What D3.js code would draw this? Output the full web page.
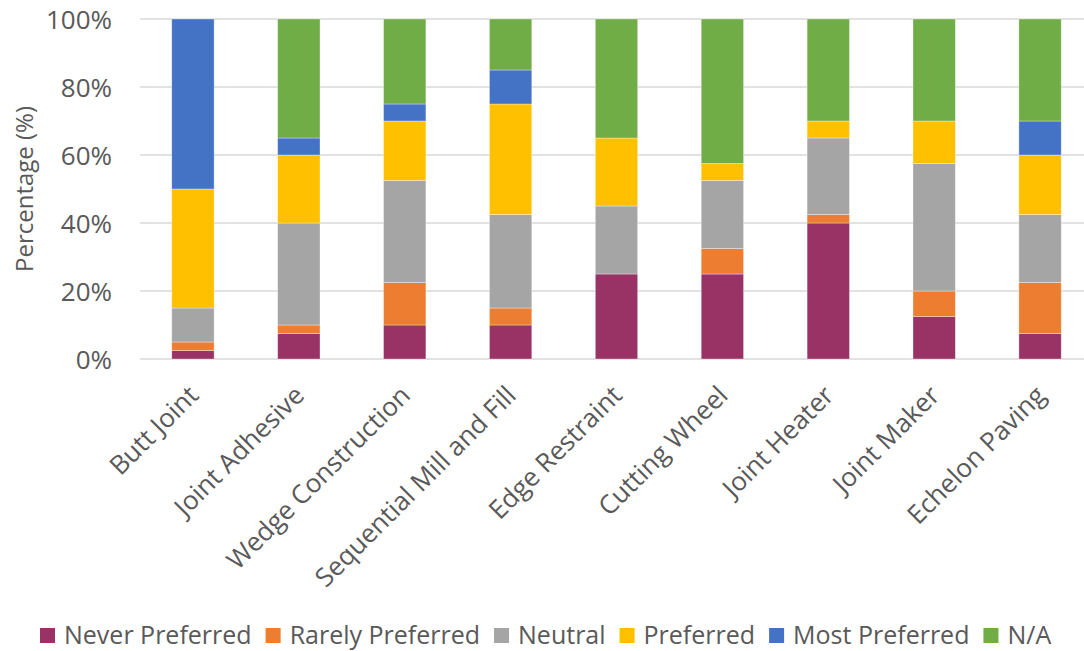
<!DOCTYPE html>
<html>
<head>
<meta charset="utf-8">
<script src="https://cdn.jsdelivr.net/npm/d3@7"></script>
<style>
  html, body { margin: 0; padding: 0; background: #fff; }
  svg { display: block; font-family: "Open Sans", "Segoe UI", sans-serif; }
</style>
</head>
<body>
<svg id="chart" width="1084" height="651"></svg>
<script>
// Joint construction methods surveyed
const categories = ["Butt Joint", "Joint Adhesive", "Wedge Construction", "Sequential Mill and Fill",
  "Edge Restraint", "Cutting Wheel", "Joint Heater", "Joint Maker", "Echelon Paving"];

// Share of responses (%) per preference level
const neverPreferred  = [2.5, 7.5, 10, 10, 25, 25, 40, 12.5, 7.5];
const rarelyPreferred = [2.5, 2.5, 12.5, 5, 0, 7.5, 2.5, 7.5, 15];
const neutral         = [10, 30, 30, 27.5, 20, 20, 22.5, 37.5, 20];
const preferred       = [35, 20, 17.5, 32.5, 20, 5, 5, 12.5, 17.5];
const mostPreferred   = [50, 5, 5, 10, 0, 0, 0, 0, 10];
const notApplicable   = [0, 35, 25, 15, 35, 42.5, 30, 30, 30];

const seriesNames = ["Never Preferred", "Rarely Preferred", "Neutral", "Preferred", "Most Preferred", "N/A"];
const seriesValues = [neverPreferred, rarelyPreferred, neutral, preferred, mostPreferred, notApplicable];
const seriesColors = ["#993366", "#ED7D31", "#A5A5A5", "#FFC000", "#4472C4", "#70AD47"];

const yTicks = [0, 20, 40, 60, 80, 100];

const svg = d3.select("#chart");
const textColor = "#595959";

const plot = { left: 140, right: 1093, top: 19, bottom: 359 };

const x = d3.scaleBand().domain(categories).range([plot.left, plot.right]).paddingInner(0.6).paddingOuter(0.3);
const y = d3.scaleLinear().domain([0, 100]).range([plot.bottom, plot.top]);

// Horizontal gridlines
svg.append("g")
  .selectAll("line")
  .data(yTicks)
  .join("line")
  .attr("x1", plot.left).attr("x2", 1084)
  .attr("y1", d => y(d)).attr("y2", d => y(d))
  .attr("stroke", "#d9d9d9").attr("stroke-width", 1.5);

// Stacked rows
const rows = categories.map((c, i) => {
  const r = { category: c };
  seriesNames.forEach((s, j) => { r[s] = seriesValues[j][i]; });
  return r;
});
const stacked = d3.stack().keys(seriesNames)(rows);

svg.append("g")
  .selectAll("g")
  .data(stacked)
  .join("g")
  .attr("fill", (d, i) => seriesColors[i])
  .selectAll("rect")
  .data(d => d.filter(p => p[1] - p[0] > 0))
  .join("rect")
  .attr("x", d => x(d.data.category))
  .attr("width", x.bandwidth())
  .attr("y", d => y(d[1]))
  .attr("height", d => y(d[0]) - y(d[1]))
  .attr("stroke", "#ffffff").attr("stroke-opacity", 0.45).attr("stroke-width", 0.75);

// Y axis labels
const yAxis = d3.axisLeft(y).tickValues(yTicks).tickFormat(d => d + "%").tickSize(0).tickPadding(0);
const yg = svg.append("g").attr("transform", `translate(${plot.left - 28},0)`).call(yAxis);
yg.select(".domain").remove();
yg.selectAll("text").attr("fill", textColor).style("font-size", "26px")
  .style("font-family", "'Open Sans', sans-serif").attr("dy", "0.35em");

// Y axis title
svg.append("text")
  .attr("transform", `translate(33,${(plot.top + plot.bottom) / 2}) rotate(-90)`)
  .attr("text-anchor", "middle")
  .attr("fill", textColor)
  .style("font-size", "24px")
  .text("Percentage (%)");

// Category labels, rotated
const xg = svg.append("g");
xg.selectAll("text")
  .data(categories)
  .join("text")
  .attr("transform", d => `translate(${x(d) + x.bandwidth() / 2 + 7},${plot.bottom + 38}) rotate(-45)`)
  .attr("text-anchor", "end")
  .attr("fill", textColor)
  .style("font-size", "26px")
  .text(d => d);

// Legend
const legend = svg.append("g").attr("transform", "translate(0,635)");
const items = legend.selectAll("g").data(seriesNames).join("g");
items.append("rect").attr("width", 15).attr("height", 15).attr("y", -7)
  .attr("fill", (d, i) => seriesColors[i]);
items.append("text").attr("x", 24).attr("dy", "0.35em")
  .attr("fill", textColor).style("font-size", "25px").text(d => d);
let cx = 40;
items.each(function () {
  const w = d3.select(this).select("text").node().getComputedTextLength();
  d3.select(this).attr("transform", `translate(${cx},0)`);
  cx += 24 + w + 14;
});
</script>
</body>
</html>
